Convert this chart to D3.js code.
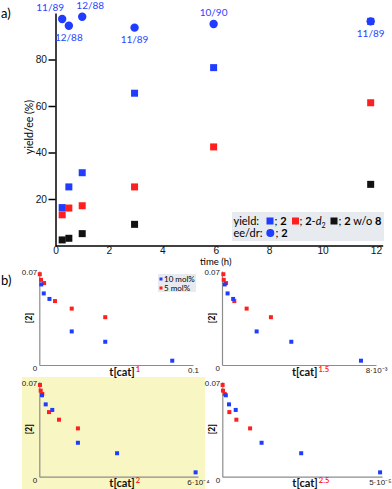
<!DOCTYPE html>
<html>
<head>
<meta charset="utf-8">
<title>Yield / kinetics</title>
<script src="https://cdn.jsdelivr.net/npm/d3@7"></script>
<style>
    body { margin: 0; background: #fff; }
    svg { font-family: Lato, "Open Sans", sans-serif; }
    .axA path, .axA line { stroke: #000; stroke-width: 1.5px; }
    .axA text { font-size: 10.2px; fill: #111; }
    .axB path, .axB line { stroke: #8c8c8c; stroke-width: 1.2px; }
    .axB text { font-size: 8px; fill: #222; }
</style>
</head>
<body>
<script>

// ---- panel a data ----
var timesA = [0.25, 0.5, 1, 2.96, 5.92, 11.8];
var yield2 = [16.3, 25.2, 31.3, 65.5, 76.5, 96.4];
var yield2d2 = [13.2, 16.1, 17.1, 25.2, 42.4, 61.4];
var timesNo8 = [0.25, 0.5, 1, 2.96, 11.8];
var yieldNo8 = [2.4, 3.1, 5.1, 9.1, 26.3];
var ee2 = [97.4, 94.5, 98.4, 93.7, 95.3, 96.4];
var drLabels = ["11/89", "12/88", "12/88", "11/89", "10/90", "11/89"];
var xTicksA = [0, 2, 4, 6, 8, 10, 12];
var yTicksA = [20, 40, 60, 80];

// ---- panel b data ([2] vs t[cat]^n) ----
var conc10 = [0.0600, 0.0533, 0.0492, 0.0250, 0.0173, 0.0032];
var conc5 = [0.0676, 0.0634, 0.0610, 0.0476, 0.0420, 0.0356];
var powers = ["1", "1.5", "2", "2.5"];
var xMaxB = [0.1, 0.008, 0.0006, 0.00005];
var xMaxLabels = ["0.1", "8·10⁻³", "6·10⁻⁴", "5·10⁻⁵"];
var tcat10 = [
    [0.0013, 0.0029, 0.0066, 0.0211, 0.0429, 0.0865],
    [0.00014, 0.00029, 0.00058, 0.00180, 0.00360, 0.00722],
    [0.0000102, 0.0000242, 0.0000491, 0.000146, 0.000294, 0.000591],
    [0.0000011, 0.0000021, 0.0000042, 0.0000123, 0.0000247, 0.0000494]
];
var tcat5 = [
    [0.0003, 0.0011, 0.0031, 0.0102, 0.0211, 0.0429],
    [0.00007, 0.00009, 0.00021, 0.00064, 0.00128, 0.00254],
    [0.0000026, 0.0000053, 0.0000113, 0.0000367, 0.0000745, 0.000146],
    [0.0000001, 0.00000022, 0.00000075, 0.0000022, 0.0000044, 0.0000087]
];

var blue = "#1f3cff", red = "#ff1f1f";

var svg = d3.select("body").append("svg")
        .attr("width", 392)
        .attr("height", 489);

// ================= panel a =================
var xA = d3.scaleLinear().domain([0, 12.25]).range([55.5, 382.7]);
var yA = d3.scaleLinear().domain([0, 100]).range([245.5, 13]);

svg.append("g").attr("class", "axA")
        .attr("transform", "translate(0," + yA(0) + ")")
        .call(d3.axisBottom(xA).tickValues(xTicksA).tickSize(0).tickPadding(1.5).tickSizeOuter(0));
svg.append("g").attr("class", "axA")
        .attr("transform", "translate(" + xA(0) + ",0)")
        .call(d3.axisLeft(yA).tickValues(yTicksA).tickSize(7).tickPadding(1.5).tickSizeOuter(0));

svg.append("text").attr("x", xA(6)).attr("y", 265)
        .attr("text-anchor", "middle").style("font-size", "9.5px")
        .text("time (h)");
svg.append("text")
        .attr("transform", "translate(33,127) rotate(-90)")
        .attr("text-anchor", "middle").style("font-size", "10.5px")
        .text("yield/ee (%)");
svg.append("text").attr("x", 1).attr("y", 18).style("font-size", "13px").text("a)");

// legend a
var fs = "11px";
var leg = svg.append("g");
leg.append("rect").attr("x", 232).attr("y", 212).attr("width", 152).attr("height", 29).attr("fill", "#e7eaee");
leg.append("text").attr("x", 233.5).attr("y", 225).style("font-size", fs).text("yield:");
leg.append("rect").attr("x", 266.5).attr("y", 217.5).attr("width", 7).attr("height", 7).attr("fill", blue);
var t1 = leg.append("text").attr("x", 274.5).attr("y", 225).style("font-size", fs);
t1.append("tspan").text("; ");
t1.append("tspan").style("font-weight", "bold").text("2");
leg.append("rect").attr("x", 292).attr("y", 217.5).attr("width", 7).attr("height", 7).attr("fill", red);
var t2 = leg.append("text").attr("x", 299.5).attr("y", 225).style("font-size", fs);
t2.append("tspan").text("; ");
t2.append("tspan").style("font-weight", "bold").text("2");
t2.append("tspan").text("-");
t2.append("tspan").style("font-style", "italic").text("d");
t2.append("tspan").attr("dy", 3).style("font-size", "7px").text("2");
leg.append("rect").attr("x", 330.5).attr("y", 217.5).attr("width", 7).attr("height", 7).attr("fill", "#111");
var t3 = leg.append("text").attr("x", 338.5).attr("y", 225).style("font-size", fs);
t3.append("tspan").text("; ");
t3.append("tspan").style("font-weight", "bold").text("2");
t3.append("tspan").text(" w/o ");
t3.append("tspan").style("font-weight", "bold").text("8");
leg.append("text").attr("x", 233.5).attr("y", 237).style("font-size", fs).text("ee/dr:");
leg.append("circle").attr("cx", 270.3).attr("cy", 233).attr("r", 4).attr("fill", blue);
var t4 = leg.append("text").attr("x", 275.5).attr("y", 237).style("font-size", fs);
t4.append("tspan").text("; ");
t4.append("tspan").style("font-weight", "bold").text("2");

// squares
function squares(xs, ys, color) {
    svg.append("g").selectAll("rect").data(ys).join("rect")
            .attr("x", function (d, i) { return xA(xs[i]) - 3.5; })
            .attr("y", function (d) { return yA(d) - 3.5; })
            .attr("width", 7).attr("height", 7)
            .attr("fill", color);
}
squares(timesNo8, yieldNo8, "#111");
squares(timesA, yield2d2, red);
squares(timesA, yield2, blue);

svg.append("g").selectAll("circle").data(ee2).join("circle")
        .attr("cx", function (d, i) { return xA(timesA[i]); })
        .attr("cy", function (d) { return yA(d); })
        .attr("r", 4.2)
        .attr("fill", blue);

// dr labels, alternating above / below
var labelDx = [-12, 0, 8, 0, 0, 0];
svg.append("g").selectAll("text").data(drLabels).join("text")
        .attr("x", function (d, i) { return xA(timesA[i]) + labelDx[i]; })
        .attr("y", function (d, i) { return yA(ee2[i]) + (i % 2 === 0 ? -8 : 15.5); })
        .attr("text-anchor", "middle")
        .style("font-size", "10px")
        .attr("fill", "#2a44ff")
        .text(function (d) { return d; });

// ================= panel b =================
svg.append("rect").attr("x", 22).attr("y", 377).attr("width", 183).attr("height", 112).attr("fill", "#f8f6c2");
svg.append("text").attr("x", 1).attr("y", 285).style("font-size", "13px").text("b)");

var boxes = [
    {x0: 39.3, x1: 193, y0: 365, y1: 271},
    {x0: 222, x1: 376, y0: 365, y1: 271},
    {x0: 39.3, x1: 198, y0: 476.7, y1: 381.7},
    {x0: 222.3, x1: 382, y0: 476.7, y1: 381.7}
];

boxes.forEach(function (b, k) {
    var x = d3.scaleLinear().domain([0, xMaxB[k]]).range([b.x0, b.x1]);
    var y = d3.scaleLinear().domain([0, 0.07]).range([b.y0, b.y1]);

    var xa = svg.append("g").attr("class", "axB")
            .attr("transform", "translate(0," + b.y0 + ")")
            .call(d3.axisBottom(x).tickValues([xMaxB[k]]).tickSize(0).tickPadding(2.5).tickSizeOuter(0)
                    .tickFormat(function () { return xMaxLabels[k]; }));
    if (b.x1 > 380) xa.selectAll(".tick text").attr("text-anchor", "end").attr("dx", 9);
    var ya = svg.append("g").attr("class", "axB")
            .attr("transform", "translate(" + b.x0 + ",0)")
            .call(d3.axisLeft(y).tickValues([0, 0.07]).tickSize(0).tickPadding(2).tickSizeOuter(0)
                    .tickFormat(function (d) { return d === 0 ? "0" : "0.07"; }));
    ya.selectAll(".tick text").filter(function (d) { return d === 0; }).attr("dy", "0.7em");
    ya.selectAll(".tick text").filter(function (d) { return d !== 0; }).attr("dy", "0.45em");

    svg.append("text")
            .attr("transform", "translate(" + (b.x0 - 7) + "," + ((b.y0 + b.y1) / 2) + ") rotate(-90)")
            .attr("text-anchor", "middle")
            .style("font-size", "8.5px").style("font-weight", "bold")
            .text("[2]");
    var lab = svg.append("text").attr("x", b.x0 + 70).attr("y", b.y0 + 10.5)
            .style("font-size", "11px").style("font-weight", "bold").attr("fill", "#111");
    lab.append("tspan").text("t[cat]");
    lab.append("tspan").attr("dy", -4).attr("dx", 1).style("font-size", "7.5px")
            .attr("fill", red).text(powers[k]);

    svg.append("g").selectAll("rect").data(conc5).join("rect")
            .attr("x", function (d, i) { return x(tcat5[k][i]) - 2; })
            .attr("y", function (d) { return y(d) - 2; })
            .attr("width", 4).attr("height", 4).attr("fill", red);
    svg.append("g").selectAll("rect").data(conc10).join("rect")
            .attr("x", function (d, i) { return x(tcat10[k][i]) - 2; })
            .attr("y", function (d) { return y(d) - 2; })
            .attr("width", 4).attr("height", 4).attr("fill", blue);
});

// legend b
var lb = svg.append("g");
lb.append("rect").attr("x", 158).attr("y", 274).attr("width", 38).attr("height", 18).attr("fill", "#e7eaee");
lb.append("rect").attr("x", 159.5).attr("y", 277.5).attr("width", 3).attr("height", 3).attr("fill", blue);
lb.append("rect").attr("x", 159.5).attr("y", 286.5).attr("width", 3).attr("height", 3).attr("fill", red);
lb.append("text").attr("x", 164).attr("y", 282).style("font-size", "8px").text("10 mol%");
lb.append("text").attr("x", 164).attr("y", 291).style("font-size", "8px").text("5 mol%");

</script>
</body>
</html>
